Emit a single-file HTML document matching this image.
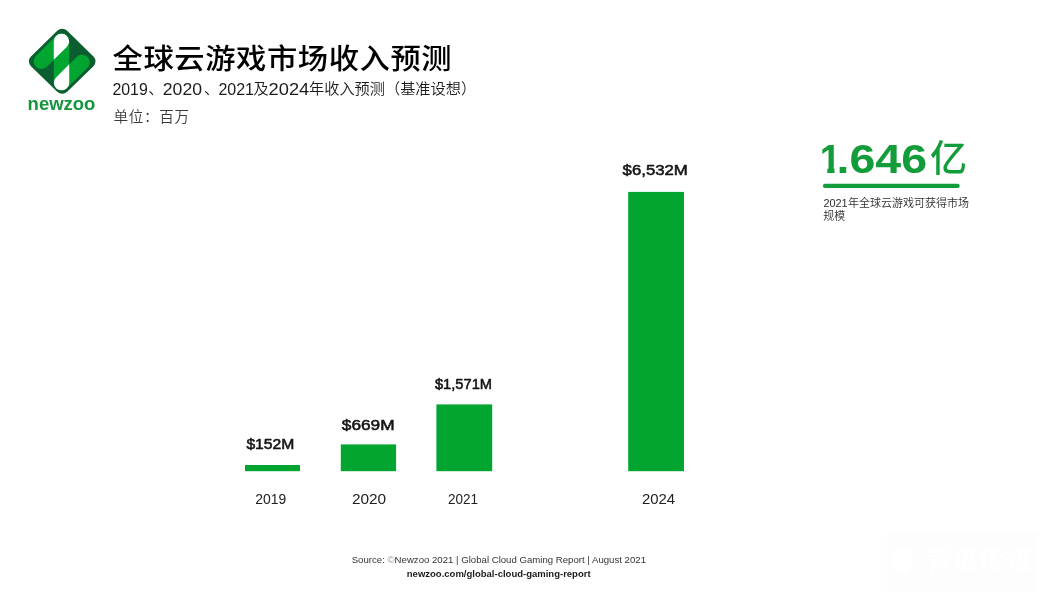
<!DOCTYPE html>
<html lang="zh-CN">
<head>
<meta charset="utf-8">
<title>全球云游戏市场收入预测</title>
<style>
html,body{margin:0;padding:0;background:#fff;}
body{width:1047px;height:605px;overflow:hidden;position:relative;}
svg{position:absolute;left:0;top:0;display:block;}
.lat{font-family:"Liberation Sans",sans-serif;}
.cjk{font-family:"Liberation Sans","Noto Sans CJK SC",sans-serif;}
</style>
</head>
<body>
<svg width="1047" height="605" viewBox="0 0 1047 605">
  <defs>
    <clipPath id="vcap"><rect x="53.8" y="33.5" width="15.4" height="57.1" rx="7.7" ry="7.7"/></clipPath>
    <clipPath id="oneclip"><rect x="815" y="140" width="30" height="27.4"/><rect x="827.3" y="167" width="7.2" height="8"/></clipPath>
  </defs>
  <rect x="0" y="0" width="1047" height="605" fill="#ffffff"/>

  <!-- logo -->
  <g>
    <rect x="-25.6" y="-25.6" width="51.2" height="51.2" rx="7" ry="7" fill="#0b5e30" transform="translate(62.2 61.3) scale(1 0.975) rotate(45)"/>
    <g stroke="#02a530" stroke-width="15.4" stroke-linecap="round" fill="none">
      <line x1="61.5" y1="41.2" x2="61.5" y2="82.9"/>
      <line x1="61.5" y1="41.2" x2="41.4" y2="61.3"/>
      <line x1="61.5" y1="82.9" x2="82" y2="62.4"/>
    </g>
    <g stroke="#ffffff" stroke-width="15.4" stroke-linecap="round" fill="none" clip-path="url(#vcap)">
      <line x1="61.5" y1="41.2" x2="41.4" y2="61.3"/>
      <line x1="61.5" y1="82.9" x2="82" y2="62.4"/>
    </g>
    <text class="lat" x="27.6" y="109.7" font-size="18.6" font-weight="700" fill="#14953c" textLength="67.8" lengthAdjust="spacingAndGlyphs">newzoo</text>
  </g>

  <!-- heading -->
  <text class="cjk" transform="translate(112.6 68.9) scale(1.063 1)" font-size="28.5" letter-spacing="0.55" font-weight="500" fill="#000000">全球云游戏市场收入预测</text>
  <g font-size="15.2" font-weight="350" fill="#1c1c1c">
    <text class="lat" x="112.4" y="94.5" font-size="16" textLength="35.4" lengthAdjust="spacingAndGlyphs">2019</text>
    <text class="cjk" x="148.2" y="93.6">、</text>
    <text class="lat" x="162.8" y="94.5" font-size="16" textLength="39.2" lengthAdjust="spacingAndGlyphs">2020</text>
    <text class="cjk" x="204" y="93.6">、</text>
    <text class="lat" x="218.4" y="94.5" font-size="16" textLength="35.6" lengthAdjust="spacingAndGlyphs">2021</text>
    <text class="cjk" x="253.6" y="93.6">及</text>
    <text class="lat" x="268.6" y="94.5" font-size="16" textLength="40.6" lengthAdjust="spacingAndGlyphs">2024</text>
    <text class="cjk" x="309" y="93.6">年收入预测（基准设想）</text>
  </g>
  <text class="cjk" x="113.4" y="121.6" font-size="14.6" letter-spacing="0.7" font-weight="350" fill="#3a3a3a">单位：百万</text>

  <!-- bars -->
  <g fill="#02a530">
    <rect x="245" y="465" width="55" height="6.2"/>
    <rect x="340.8" y="444.4" width="55.3" height="26.8"/>
    <rect x="436.4" y="404.4" width="55.8" height="66.8"/>
    <rect x="628.2" y="191.9" width="55.8" height="279.3"/>
  </g>

  <!-- value labels -->
  <g class="lat" font-size="14.6" font-weight="400" fill="#141414" stroke="#141414" stroke-width="0.55" stroke-linejoin="round">
    <text x="246.4" y="448.7" textLength="48" lengthAdjust="spacingAndGlyphs">$152M</text>
    <text x="341.8" y="429.8" textLength="52.8" lengthAdjust="spacingAndGlyphs">$669M</text>
    <text x="434.9" y="388.5" textLength="57.2" lengthAdjust="spacingAndGlyphs">$1,571M</text>
    <text x="622.6" y="175.1" textLength="65.2" lengthAdjust="spacingAndGlyphs">$6,532M</text>
  </g>

  <!-- year labels -->
  <g class="lat" font-size="13.8" font-weight="400" fill="#222222">
    <text x="255.2" y="503.7" textLength="31" lengthAdjust="spacingAndGlyphs">2019</text>
    <text x="351.9" y="503.7" textLength="34.3" lengthAdjust="spacingAndGlyphs">2020</text>
    <text x="448.1" y="503.7" textLength="30" lengthAdjust="spacingAndGlyphs">2021</text>
    <text x="641.9" y="503.7" textLength="33.2" lengthAdjust="spacingAndGlyphs">2024</text>
  </g>

  <!-- callout -->
  <text class="lat" x="819.8" y="172.6" font-size="40.2" font-weight="700" fill="#129d3a" textLength="21" lengthAdjust="spacingAndGlyphs" clip-path="url(#oneclip)">1</text>
  <text class="lat" x="836.6" y="172.6" font-size="40.2" font-weight="700" fill="#129d3a" textLength="90.5" lengthAdjust="spacingAndGlyphs">.646</text>
  <text class="cjk" x="930" y="172" font-size="37" font-weight="500" fill="#129d3a">亿</text>
  <line x1="825" y1="185.9" x2="957.6" y2="185.9" stroke="#129d3a" stroke-width="4.2" stroke-linecap="round"/>
  <g font-size="11" font-weight="350" fill="#2e2e2e">
    <text class="lat" x="823.4" y="206.6" font-size="10.4" textLength="24.3" lengthAdjust="spacingAndGlyphs">2021</text>
    <text class="cjk" x="848" y="206.7">年全球云游戏可获得市场</text>
    <text class="cjk" x="823.2" y="219.6">规模</text>
  </g>

  <!-- footer -->
  <text class="lat" x="351.7" y="562.7" font-size="9.1" font-weight="400" fill="#333333" textLength="294.3" lengthAdjust="spacingAndGlyphs">Source: <tspan fill="#9a9a9a">©</tspan>Newzoo 2021 | Global Cloud Gaming Report | August 2021</text>
  <text class="lat" x="406.8" y="577" font-size="9.4" font-weight="700" fill="#1a1a1a" textLength="183.8" lengthAdjust="spacingAndGlyphs">newzoo.com/global-cloud-gaming-report</text>

  <!-- watermark -->
  <rect x="886.7" y="532.2" width="150.4" height="59.5" fill="#fdfdfd"/>
  <path d="M893 550 L903 546 L913 550 L913 562 Q913 572 903 576 Q893 572 893 562 Z" fill="#ffffff"/>
  <text class="cjk" x="925.6" y="569" font-size="26.6" font-weight="700" fill="#ffffff">青瓜传媒</text>
</svg>
</body>
</html>
